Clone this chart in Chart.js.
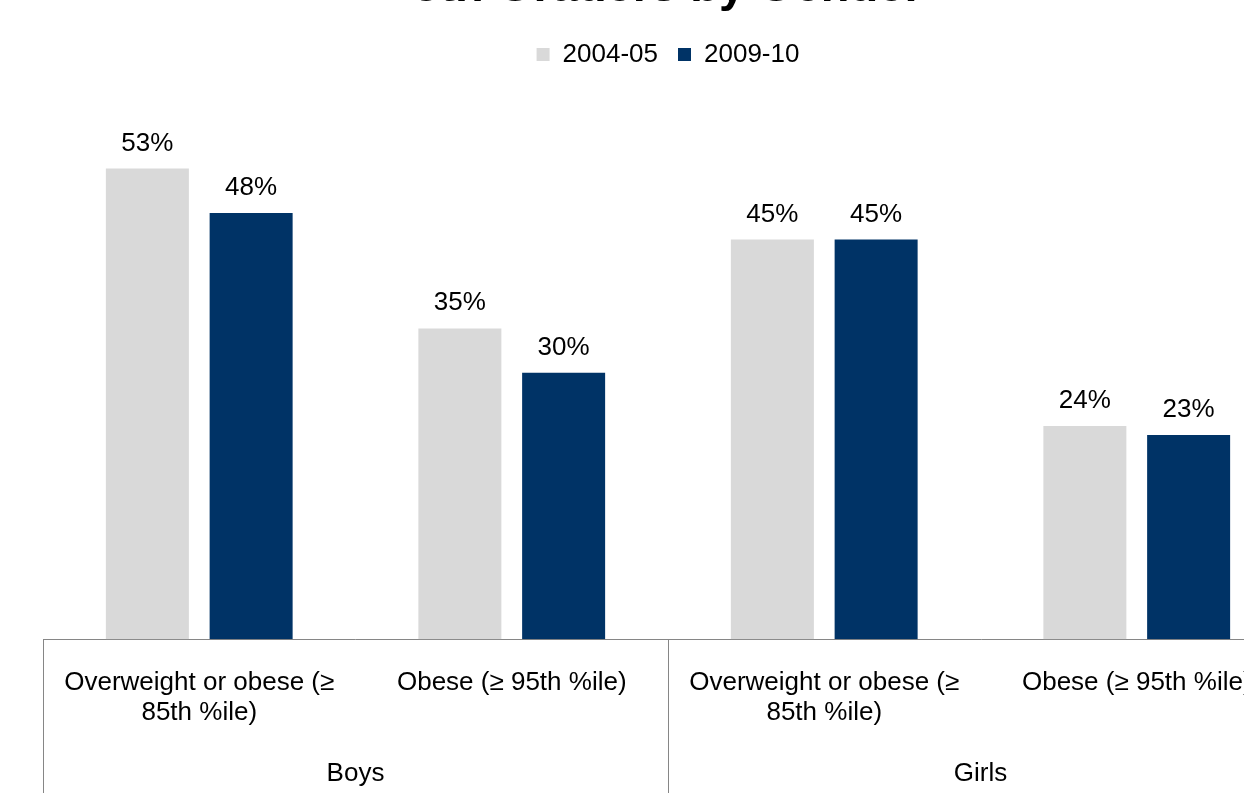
<!DOCTYPE html>
<html>
<head>
<meta charset="utf-8">
<title>5th Graders by Gender</title>
<script src="https://cdn.jsdelivr.net/npm/chart.js@4.4.0/dist/chart.umd.min.js"></script>
<style>
  html, body { margin: 0; padding: 0; overflow: hidden; background: #fff; }
  #wrap { position: absolute; left: 0; top: -50px; }
</style>
</head>
<body>
<div id="wrap"><canvas id="genderChart" width="1336" height="880"></canvas></div>
<script>
// chart data
const categories = [
    ['Overweight or obese (\u2265', '85th %ile)'],
    'Obese (\u2265 95th %ile)',
    ['Overweight or obese (\u2265', '85th %ile)'],
    'Obese (\u2265 95th %ile)'
];
const groups = ['Boys', 'Girls'];
const groupSize = 2;
const seriesNames = ['2004-05', '2009-10'];
const values2004 = [53, 35, 45, 24];
const values2009 = [48, 30, 45, 23];

const FONT = "'Liberation Sans', Arial, sans-serif";
const AXIS_GREY = '#868686';

Chart.defaults.font.family = FONT;
Chart.defaults.font.size = 26;
Chart.defaults.color = '#000';

// legend sits higher above the plot than chart.js leaves by default
const legendSpacing = {
    id: 'legendSpacing',
    beforeInit(chart) {
        const origFit = chart.legend.fit;
        chart.legend.fit = function fit() {
            origFit.bind(chart.legend)();
            this.height += 29;
        };
    }
};

// value labels above each bar
const barLabels = {
    id: 'barLabels',
    afterDatasetsDraw(chart) {
        const ctx = chart.ctx;
        ctx.save();
        ctx.font = '26px ' + FONT;
        ctx.fillStyle = '#000';
        ctx.textAlign = 'center';
        ctx.textBaseline = 'alphabetic';
        chart.data.datasets.forEach((ds, i) => {
            chart.getDatasetMeta(i).data.forEach((bar, j) => {
                ctx.fillText(ds.data[j] + '%', bar.x, bar.y - 18);
            });
        });
        ctx.restore();
    }
};

// second level of the category axis: group names and dividers
const groupAxis = {
    id: 'groupAxis',
    afterDraw(chart) {
        const x = chart.scales.x;
        const ctx = chart.ctx;
        const half = (x.getPixelForValue(1) - x.getPixelForValue(0)) / 2;
        ctx.save();
        ctx.strokeStyle = AXIS_GREY;
        ctx.lineWidth = 1;
        ctx.font = '26px ' + FONT;
        ctx.fillStyle = '#000';
        ctx.textAlign = 'center';
        ctx.textBaseline = 'middle';
        groups.forEach((g, k) => {
            const first = k * groupSize;
            const last = first + groupSize - 1;
            const left = x.getPixelForValue(first) - half;
            const right = x.getPixelForValue(last) + half;
            [left, right].forEach(px => {
                const lx = Math.round(px) + 0.5;
                ctx.beginPath();
                ctx.moveTo(lx, x.top);
                ctx.lineTo(lx, chart.height);
                ctx.stroke();
            });
            ctx.fillText(g, (left + right) / 2, x.top + 135);
        });
        ctx.restore();
    }
};

const config = {
    type: 'bar',
    data: {
        labels: categories,
        datasets: [{
            label: seriesNames[0],
            data: values2004,
            backgroundColor: '#D9D9D9',
            borderWidth: 0,
            categoryPercentage: 0.664,
            barPercentage: 0.8,
        }, {
            label: seriesNames[1],
            data: values2009,
            backgroundColor: '#003366',
            borderWidth: 0,
            categoryPercentage: 0.664,
            barPercentage: 0.8,
        }],
    },
    options: {
        responsive: false,
        animation: false,
        layout: {
            padding: { left: 43, right: 43, top: 0, bottom: 73 },
        },
        plugins: {
            title: {
                display: true,
                text: '5th Graders by Gender',
                color: '#000',
                font: { size: 47, weight: 'bold', lineHeight: 1.2 },
                padding: { top: 10, bottom: 5 },
            },
            legend: {
                position: 'top',
                labels: {
                    boxWidth: 13,
                    boxHeight: 13,
                    padding: 20,
                    color: '#000',
                    font: { size: 26 },
                },
            },
            tooltip: { enabled: false },
        },
        scales: {
            x: {
                grid: { display: false, drawTicks: false },
                border: { display: true, color: AXIS_GREY, width: 1 },
                ticks: {
                    autoSkip: false,
                    maxRotation: 0,
                    padding: 29,
                    color: '#000',
                    font: { size: 26, lineHeight: 1.15 },
                },
            },
            y: {
                display: false,
                min: 0,
                max: 60,
            },
        },
    },
    plugins: [legendSpacing, barLabels, groupAxis],
};

const chart = new Chart(document.getElementById('genderChart'), config);
</script>
</body>
</html>
